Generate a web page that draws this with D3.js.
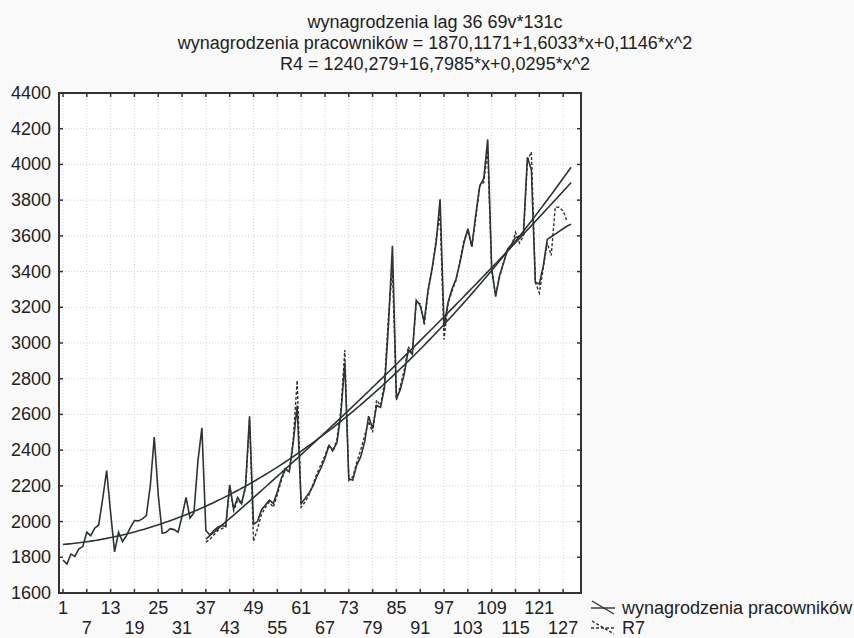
<!DOCTYPE html>
<html>
<head>
<meta charset="utf-8">
<script src="https://cdn.jsdelivr.net/npm/d3@7/dist/d3.min.js"></script>
<style>
  body { margin: 0; background: #f9f9f9; }
  svg { display: block; font-family: "Liberation Sans", Arial, sans-serif; }
</style>
</head>
<body>
<svg id="chart" width="854" height="638"></svg>
<script>
// monthly wages, cases 1..129
var wages = [
  1785,1762,1818,1805,1847,1860,1940,1921,1963,1981,2127,2286,
  2050,1830,1940,1888,1921,1968,2006,2004,2015,2034,2200,2473,
  2150,1935,1940,1960,1955,1940,2030,2135,2020,2050,2340,2525,
  1950,1925,1950,1968,1978,1974,2205,2070,2135,2100,2200,2590,
  1985,2000,2065,2093,2120,2102,2167,2241,2297,2279,2440,2650,
  2100,2130,2160,2200,2255,2300,2355,2425,2400,2440,2600,2890,
  2240,2232,2316,2362,2446,2590,2520,2650,2640,2750,3100,3545,
  2688,2740,2830,2960,2940,3240,3210,3120,3300,3420,3560,3805,
  3090,3227,3302,3357,3450,3560,3640,3540,3720,3880,3920,4140,
  3420,3260,3380,3450,3525,3553,3590,3600,3610,4040,3970,3340,
  3330,3432,3580,3595,3610,3625,3640,3655,3665
];
var wagesStart = 1;

// R7 (lag 36), cases 37..128
var r7 = [
  1885,1900,1925,1950,1960,1970,2200,2060,2120,2100,2190,2570,
  1890,1960,2040,2080,2110,2080,2150,2230,2290,2280,2460,2790,
  2080,2110,2150,2210,2270,2320,2370,2430,2390,2460,2620,2960,
  2230,2250,2330,2400,2480,2560,2500,2680,2650,2780,3150,3420,
  2680,2760,2850,2980,2930,3230,3220,3100,3290,3410,3580,3720,
  3020,3220,3290,3350,3460,3570,3630,3540,3700,3880,3900,4080,
  3400,3270,3370,3450,3520,3540,3620,3560,3600,4020,4070,3340,
  3280,3420,3560,3490,3760,3760,3740,3680
];
var r7Start = 37;

// quadratic fits printed in the title: [a, b, c] for a + b*x + c*x^2
var fitWages = [1870.1171, 1.6033, 0.1146];
var fitR4 = [1240.279, 16.7985, 0.0295];
var fitWagesRange = [1, 129];
var fitR4Range = [37, 129];

var titleLines = [
  "wynagrodzenia lag 36 69v*131c",
  "wynagrodzenia pracowników = 1870,1171+1,6033*x+0,1146*x^2",
  "R4 = 1240,279+16,7985*x+0,0295*x^2"
];
var xTicks = d3.range(1, 128, 6);
var yTicks = d3.range(1600, 4401, 200);
var legendLabels = ["wynagrodzenia pracowników", "R7"];

var svg = d3.select("#chart");
var pLeft = 59, pRight = 581, pTop = 93, pBottom = 593;
var x = d3.scaleLinear().domain([0, 131.5]).range([pLeft, pRight]);
var y = d3.scaleLinear().domain([1600, 4400]).range([pBottom, pTop]);

// plot area
svg.append("rect")
  .attr("x", pLeft).attr("y", pTop)
  .attr("width", pRight - pLeft).attr("height", pBottom - pTop)
  .attr("fill", "#fff");

// grid
svg.append("g").selectAll("line")
  .data(xTicks).enter().append("line")
  .attr("x1", function(d) { return x(d); }).attr("x2", function(d) { return x(d); })
  .attr("y1", pTop).attr("y2", pBottom)
  .attr("stroke", "#cfd3d3").attr("stroke-width", 1)
  .attr("stroke-dasharray", "1,2");
svg.append("g").selectAll("line")
  .data(yTicks).enter().append("line")
  .attr("y1", function(d) { return y(d); }).attr("y2", function(d) { return y(d); })
  .attr("x1", pLeft).attr("x2", pRight)
  .attr("stroke", "#cfd3d3").attr("stroke-width", 1)
  .attr("stroke-dasharray", "1,2");

function pts(values, start) {
  return values.map(function(v, i) { return [start + i, v]; });
}
function fitPts(coef, range) {
  return d3.range(range[0], range[1] + 0.01, 0.5).map(function(t) {
    return [t, coef[0] + coef[1] * t + coef[2] * t * t];
  });
}
var line = d3.line()
  .x(function(d) { return x(d[0]); })
  .y(function(d) { return y(d[1]); });

var plot = svg.append("g");
plot.append("path")
  .attr("d", line(pts(r7, r7Start)))
  .attr("fill", "none").attr("stroke", "#333")
  .attr("stroke-width", 1.4).attr("stroke-dasharray", "3,2");
plot.append("path")
  .attr("d", line(pts(wages, wagesStart)))
  .attr("fill", "none").attr("stroke", "#2e3333").attr("stroke-width", 1.6);
plot.append("path")
  .attr("d", line(fitPts(fitWages, fitWagesRange)))
  .attr("fill", "none").attr("stroke", "#2e3333").attr("stroke-width", 1.6);
plot.append("path")
  .attr("d", line(fitPts(fitR4, fitR4Range)))
  .attr("fill", "none").attr("stroke", "#2e3333").attr("stroke-width", 1.6);

// frame
svg.append("rect")
  .attr("x", pLeft).attr("y", pTop)
  .attr("width", pRight - pLeft).attr("height", pBottom - pTop)
  .attr("fill", "none").attr("stroke", "#333").attr("stroke-width", 2);

// inside ticks
var tickLen = 4;
var ticks = svg.append("g").attr("stroke", "#333").attr("stroke-width", 1.5);
xTicks.forEach(function(d) {
  ticks.append("line").attr("x1", x(d)).attr("x2", x(d)).attr("y1", pBottom).attr("y2", pBottom - tickLen);
  ticks.append("line").attr("x1", x(d)).attr("x2", x(d)).attr("y1", pTop).attr("y2", pTop + tickLen);
});
yTicks.forEach(function(d) {
  ticks.append("line").attr("y1", y(d)).attr("y2", y(d)).attr("x1", pLeft).attr("x2", pLeft + tickLen);
  ticks.append("line").attr("y1", y(d)).attr("y2", y(d)).attr("x1", pRight).attr("x2", pRight - tickLen);
});

// tick labels
svg.append("g").selectAll("text")
  .data(yTicks).enter().append("text")
  .attr("x", pLeft - 8)
  .attr("y", function(d) { return y(d) + 6; })
  .attr("text-anchor", "end")
  .attr("font-size", 18).attr("fill", "#222")
  .text(function(d) { return d; });
svg.append("g").selectAll("text")
  .data(xTicks).enter().append("text")
  .attr("x", function(d) { return x(d); })
  .attr("y", function(d, i) { return i % 2 === 0 ? 614 : 634; })
  .attr("text-anchor", "middle")
  .attr("font-size", 18).attr("fill", "#222")
  .text(function(d) { return d; });

// title
svg.append("g").selectAll("text")
  .data(titleLines).enter().append("text")
  .attr("x", 435)
  .attr("y", function(d, i) { return 28 + i * 21; })
  .attr("text-anchor", "middle")
  .attr("font-size", 18).attr("fill", "#222")
  .text(function(d) { return d; });

// legend
var legend = svg.append("g");
legendLabels.forEach(function(label, i) {
  var cy = 608 + i * 20;
  var dash = i === 0 ? null : "3,2";
  legend.append("line")
    .attr("x1", 591).attr("x2", 615).attr("y1", cy).attr("y2", cy)
    .attr("stroke", "#333").attr("stroke-width", 1.4).attr("stroke-dasharray", dash);
  legend.append("line")
    .attr("x1", 592).attr("x2", 614).attr("y1", cy - 7).attr("y2", cy + 6)
    .attr("stroke", "#333").attr("stroke-width", 1.4).attr("stroke-dasharray", dash);
  legend.append("text")
    .attr("x", 622).attr("y", cy + 6)
    .attr("font-size", 18).attr("fill", "#222")
    .text(label);
});
</script>
</body>
</html>
